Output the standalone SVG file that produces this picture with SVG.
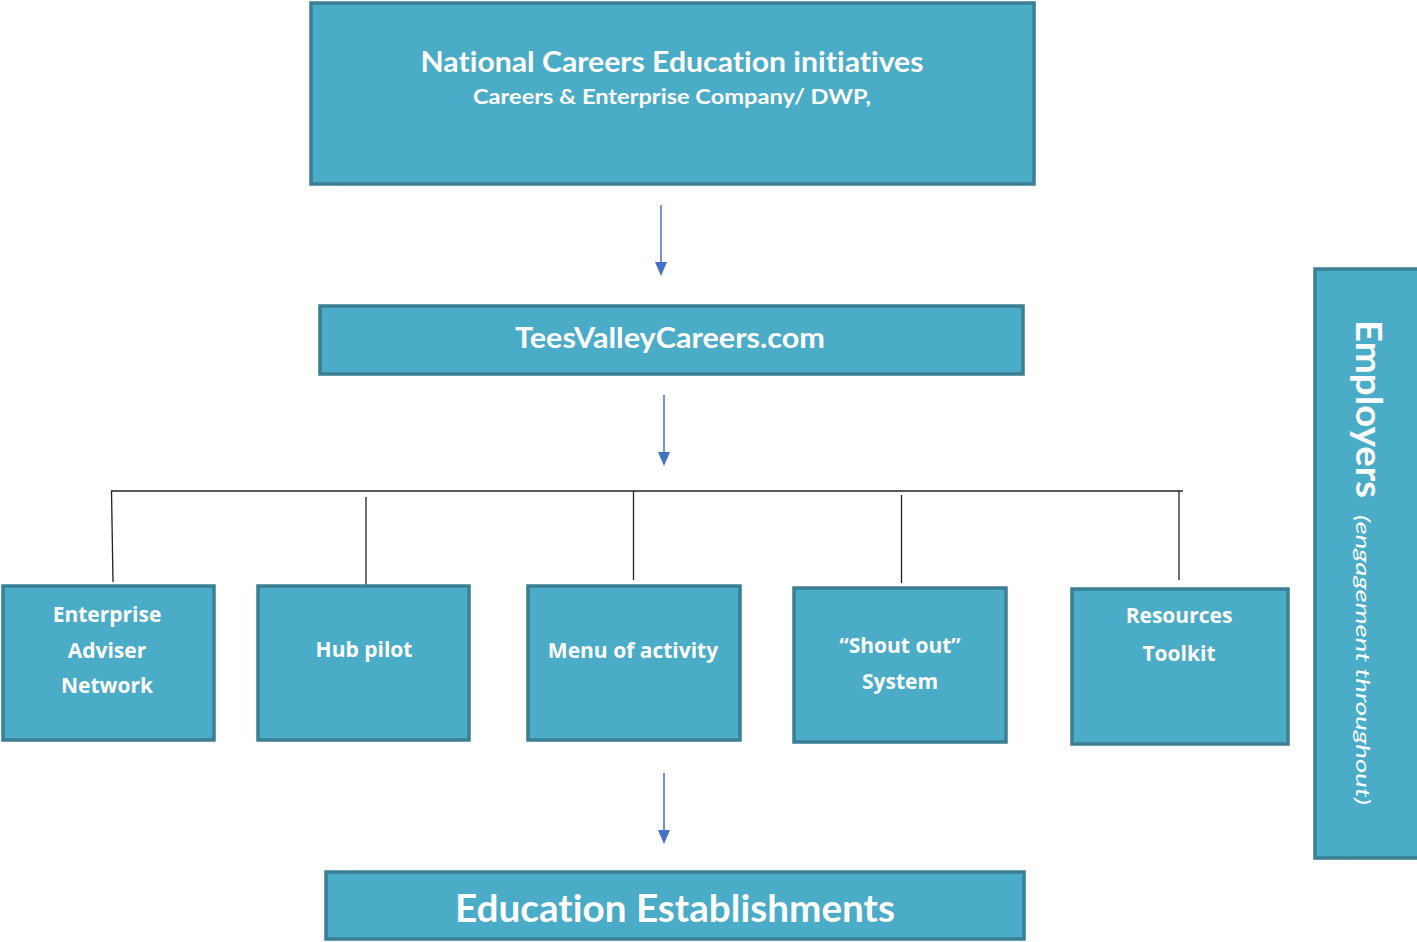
<svg xmlns="http://www.w3.org/2000/svg" width="1417" height="942" viewBox="0 0 1417 942">
<style>
.box{fill:#4AACC6;stroke:#3A7F94;stroke-width:3.5}
.cal{font-family:Lato,"Open Sans","Liberation Sans",sans-serif;fill:#fff;text-anchor:middle;font-weight:bold;font-variant-ligatures:none;font-feature-settings:"liga" 0,"dlig" 0}
.sm{font-family:"Open Sans",Lato,"Liberation Sans",sans-serif;font-weight:bold;font-size:21px;fill:#fff;text-anchor:middle}
.arr{stroke:#4472C4;stroke-width:1.5;fill:none}
.ah{fill:#4472C4}
.ln{stroke:#222;stroke-width:1.3;fill:none}
</style>
<g id="national">
<rect class="box" x="311" y="3" width="723" height="181"/>
<text class="cal" x="672" y="72" font-size="28" textLength="503" lengthAdjust="spacingAndGlyphs">National Careers Education initiatives</text>
<text class="cal" x="672" y="104" font-size="20" textLength="398" lengthAdjust="spacingAndGlyphs">Careers &amp; Enterprise Company/ DWP,</text>
</g>
<g id="teesvalley">
<rect class="box" x="320" y="306" width="703" height="68"/>
<text class="cal" x="670" y="348" font-size="28" textLength="310" lengthAdjust="spacingAndGlyphs">TeesValleyCareers.com</text>
</g>
<g id="connectors">
<line class="arr" x1="661" y1="205" x2="661" y2="262"/>
<path class="ah" d="M655,262 L667,262 L661,276 Z"/>
<line class="arr" x1="664" y1="395" x2="664" y2="452"/>
<path class="ah" d="M658,452 L670,452 L664,466 Z"/>
<line class="arr" x1="664" y1="773" x2="664" y2="830"/>
<path class="ah" d="M658,830 L670,830 L664,844 Z"/>
<line class="ln" x1="111" y1="491" x2="1183" y2="491"/>
<line class="ln" x1="111.5" y1="491" x2="113" y2="582"/>
<line class="ln" x1="366" y1="497" x2="366" y2="585"/>
<line class="ln" x1="633.5" y1="491" x2="633.5" y2="580"/>
<line class="ln" x1="901.5" y1="495" x2="901.5" y2="583"/>
<line class="ln" x1="1179" y1="491" x2="1179" y2="580"/>
</g>
<g id="enterprise">
<rect class="box" x="3" y="586" width="211" height="154"/>
<text class="sm" x="107" y="622">Enterprise</text>
<text class="sm" x="107" y="658">Adviser</text>
<text class="sm" x="107" y="693">Network</text>
</g>
<g id="hub">
<rect class="box" x="258" y="586" width="211" height="154"/>
<text class="sm" x="364" y="657">Hub pilot</text>
</g>
<g id="menu">
<rect class="box" x="528" y="586" width="212" height="154"/>
<text class="sm" x="633" y="658">Menu of activity</text>
</g>
<g id="shout">
<rect class="box" x="794" y="588" width="212" height="154"/>
<text class="sm" x="900" y="653">“Shout out”</text>
<text class="sm" x="900" y="689">System</text>
</g>
<g id="resources">
<rect class="box" x="1072" y="589" width="216" height="155"/>
<text class="sm" x="1179" y="623">Resources</text>
<text class="sm" x="1179" y="661">Toolkit</text>
</g>
<g id="education">
<rect class="box" x="326" y="872" width="698" height="67"/>
<text class="cal" x="675" y="922" font-size="38" textLength="440" lengthAdjust="spacingAndGlyphs">Education Establishments</text>
</g>
<g id="employers">
<rect class="box" x="1315" y="269" width="104" height="589"/>
<text class="cal" transform="translate(1356,320) rotate(90)" font-size="36" x="0" y="0" textLength="178" lengthAdjust="spacingAndGlyphs" style="text-anchor:start">Employers</text>
<text class="cal" transform="translate(1356,515) rotate(90)" font-size="20" font-style="italic" x="0" y="0" textLength="290" lengthAdjust="spacingAndGlyphs" style="text-anchor:start;font-weight:normal">(engagement throughout)</text>
</g>
</svg>
